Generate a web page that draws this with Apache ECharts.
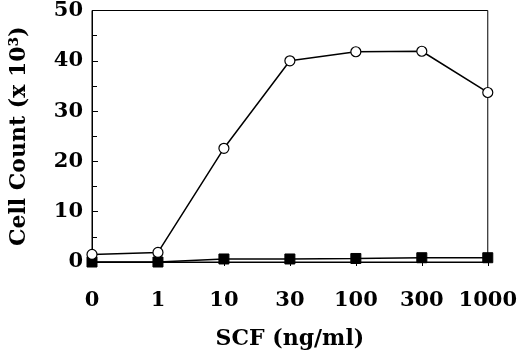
<!DOCTYPE html>
<html>
<head>
<meta charset="utf-8">
<script src="https://cdn.jsdelivr.net/npm/echarts@6/dist/echarts.min.js"></script>
<style>
html,body{margin:0;padding:0;background:#fff;}
#chart{width:520px;height:358px;}
</style>
</head>
<body>
<div id="chart"></div>
<script>
const categories = ['0', '1', '10', '30', '100', '300', '1000'];
const openCircleValues = [1.5, 1.9, 22.6, 40.0, 41.8, 41.9, 33.7];
const filledSquareValues = [0, 0, 0.6, 0.6, 0.7, 0.85, 0.85];
const yTicks = [0, 10, 20, 30, 40, 50];

const FONT = 'DejaVu Serif';
const chart = echarts.init(document.getElementById('chart'), null, {renderer: 'canvas'});
chart.setOption({
  animation: false,
  backgroundColor: '#fff',
  grid: {
    left: 91, right: 31, top: 10, bottom: 96,
    show: true, borderColor: '#000', borderWidth: 1, backgroundColor: 'transparent'
  },
  xAxis: {
    type: 'category',
    data: categories,
    boundaryGap: false,
    name: 'SCF (ng/ml)',
    nameLocation: 'middle',
    nameGap: 66,
    nameTextStyle: {fontFamily: FONT, fontWeight: 'bold', fontSize: 22, color: '#000'},
    axisLine: {lineStyle: {color: '#000', width: 1}},
    axisTick: {show: true, inside: false, length: 4, interval: 0, lineStyle: {color: '#000'}},
    axisLabel: {fontFamily: FONT, fontWeight: 'bold', fontSize: 21, color: '#000', margin: 28, interval: 0},
    splitLine: {show: false}
  },
  yAxis: {
    type: 'value',
    min: yTicks[0], max: yTicks[yTicks.length - 1], interval: 10,
    name: 'Cell Count (x 10³)',
    nameLocation: 'middle',
    nameGap: 62,
    nameTextStyle: {fontFamily: FONT, fontWeight: 'bold', fontSize: 22, color: '#000'},
    axisLine: {show: true, lineStyle: {color: '#000', width: 1}},
    axisTick: {show: true, inside: true, length: 6, lineStyle: {color: '#000'}},
    minorTick: {show: true, splitNumber: 2, length: 5, lineStyle: {color: '#000'}},
    axisLabel: {fontFamily: FONT, fontWeight: 'bold', fontSize: 21, color: '#000', margin: 9},
    splitLine: {show: false}
  },
  series: [
    {
      type: 'line',
      data: filledSquareValues,
      symbol: 'rect',
      symbolSize: 10,
      lineStyle: {color: '#000', width: 1.5},
      itemStyle: {color: '#000', borderColor: '#000'},
      z: 3
    },
    {
      type: 'line',
      data: openCircleValues,
      symbol: 'circle',
      symbolSize: 10,
      showAllSymbol: true,
      lineStyle: {color: '#000', width: 1.5},
      itemStyle: {color: '#fff', borderColor: '#000', borderWidth: 1.2},
      z: 4
    }
  ]
});
</script>
</body>
</html>
